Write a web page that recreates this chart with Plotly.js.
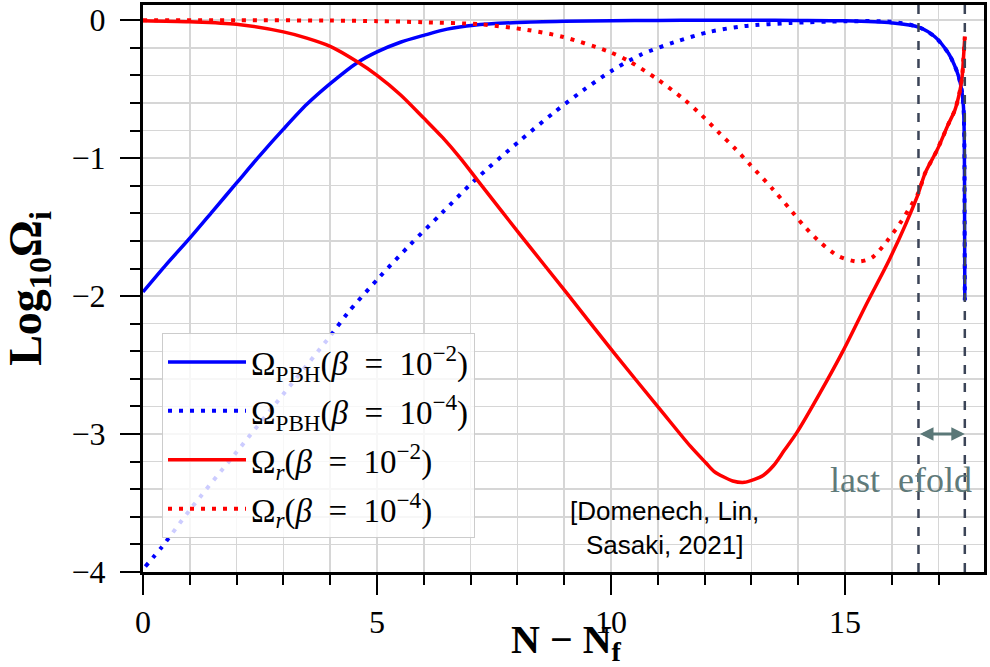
<!DOCTYPE html>
<html>
<head>
<meta charset="utf-8">
<script src="https://cdn.plot.ly/plotly-3.0.1.min.js"></script>
<style>html,body{margin:0;padding:0;background:#fff;}#chart{width:990px;height:667px;}</style>
</head>
<body>
<div id="chart"></div>
<script>
// N - N_f values and Log10 Omega values
const pbh2X = [0,0.5,1,1.5,2,2.5,3,3.5,4,4.57,5,5.5,6,6.5,7.07,8,9,10,11,12,13,14,15,16,16.57,16.92,17.21,17.33,17.42,17.49,17.53,17.55,17.555,17.56];
const pbh2Y = [-1.97,-1.77,-1.58,-1.38,-1.18,-0.98,-0.79,-0.61,-0.46,-0.31,-0.23,-0.16,-0.11,-0.065,-0.036,-0.017,-0.008,-0.004,-0.002,-0.001,-0.001,-0.002,-0.005,-0.02,-0.05,-0.12,-0.24,-0.32,-0.40,-0.50,-0.62,-0.90,-1.40,-2.03];

const pbh4X = [0.05,0.4,1,2,3,4,4.38,5.06,5.7,6.38,7.09,8.03,8.78,9.4,10,10.64,11.35,12.1,12.85,13.85,15,16,16.57,16.92,17.21,17.33,17.42,17.49,17.53,17.55,17.555,17.56];
const pbh4Y = [-3.96,-3.82,-3.55,-3.13,-2.71,-2.29,-2.12,-1.86,-1.63,-1.40,-1.16,-0.88,-0.67,-0.51,-0.37,-0.25,-0.16,-0.085,-0.043,-0.02,-0.008,-0.012,-0.05,-0.12,-0.24,-0.32,-0.40,-0.50,-0.62,-0.90,-1.40,-2.03];

const rad2X = [0,1,2,3,3.5,4,4.57,5,5.5,6,6.4,6.78,7.17,8.07,9.06,10.06,11.07,11.7,12.03,12.2,12.4,12.6,12.85,13.05,13.25,13.47,13.7,13.97,14.47,14.97,15.47,15.97,16.54,16.71,16.97,17.2,17.35,17.45,17.5,17.53,17.56];
const rad2Y = [-0.004,-0.012,-0.03,-0.085,-0.13,-0.19,-0.30,-0.40,-0.54,-0.71,-0.85,-1.00,-1.17,-1.56,-1.98,-2.41,-2.83,-3.09,-3.21,-3.27,-3.31,-3.34,-3.35,-3.33,-3.30,-3.23,-3.12,-2.99,-2.70,-2.39,-2.05,-1.72,-1.28,-1.11,-0.94,-0.76,-0.65,-0.52,-0.42,-0.28,-0.12];

const rad4X = [0,2,4,5,6,7.2,8.2,8.96,9.93,10.4,11.0,11.58,11.94,12.29,12.65,12.98,13.47,13.8,14.12,14.47,14.86,15.29,15.58,15.9,16.18,16.4,16.57,16.71,16.97,17.2,17.35,17.45,17.5,17.53,17.56];
const rad4Y = [0,0,-0.003,-0.007,-0.015,-0.03,-0.07,-0.12,-0.225,-0.30,-0.43,-0.58,-0.69,-0.81,-0.93,-1.05,-1.23,-1.36,-1.49,-1.61,-1.71,-1.75,-1.72,-1.60,-1.47,-1.35,-1.25,-1.11,-0.94,-0.76,-0.65,-0.52,-0.42,-0.28,-0.12];

const legendNames = [
  "Ω<sub>PBH</sub>(<i>β</i>\u2002=\u200210<sup>−2</sup>)",
  "Ω<sub>PBH</sub>(<i>β</i>\u2002=\u200210<sup>−4</sup>)",
  "Ω<sub><i>r</i></sub>(<i>β</i>\u2002=\u200210<sup>−2</sup>)",
  "Ω<sub><i>r</i></sub>(<i>β</i>\u2002=\u200210<sup>−4</sup>)"
];
const xTickVals = [0,5,10,15];
const yTickVals = [0,-1,-2,-3,-4];
const efoldLines = [16.57, 17.56];
const arrowY = -3.0;
const efoldLabel = "last  efold";
const citation = "[Domenech, Lin,<br>Sasaki, 2021]";
const xTitle = "<b>N − N<sub>f</sub></b>";
const yTitle = "<b>Log<sub>10</sub>Ω<sub>i</sub></b>";

const serif = "Liberation Serif, Times New Roman, serif";
const dotDash = "4px,7px";

const traces = [
  {x: pbh2X, y: pbh2Y, name: legendNames[0], legendgroup: "a", mode: "lines", line: {color: "#0000ff", width: 3.5, shape: "spline", smoothing: 0.8}},
  {x: pbh4X, y: pbh4Y, name: legendNames[1], legendgroup: "b", mode: "lines", line: {color: "#0000ff", width: 4, dash: dotDash, shape: "spline", smoothing: 0.8}},
  {x: rad2X, y: rad2Y, name: legendNames[2], legendgroup: "c", mode: "lines", line: {color: "#ff0000", width: 3.5, shape: "spline", smoothing: 0.8}},
  {x: rad4X, y: rad4Y, name: legendNames[3], legendgroup: "d", mode: "lines", line: {color: "#ff0000", width: 4, dash: dotDash, shape: "spline", smoothing: 0.8}}
];

const gridColor = "#d6d6d6";
const tickFont = {family: serif, size: 32, color: "#000"};
const layout = {
  width: 990, height: 667,
  margin: {l: 143, r: 6, t: 5, b: 95},
  paper_bgcolor: "#ffffff", plot_bgcolor: "#ffffff",
  showlegend: true,
  legend: {
    x: 0.0226, y: 0.4215, xanchor: "left", yanchor: "top",
    bgcolor: "rgba(255,255,255,0.8)", bordercolor: "#cccccc", borderwidth: 1,
    font: {family: serif, size: 33, color: "#000"},
    itemwidth: 78,
    tracegroupgap: 3
  },
  xaxis: {
    range: [0, 17.97], tickmode: "array", tickvals: xTickVals,
    ticks: "outside", ticklen: 20, tickwidth: 2, tickcolor: "#000",
    showline: true, linecolor: "#000", linewidth: 3, mirror: true,
    showgrid: true, gridcolor: gridColor, gridwidth: 1.5, zeroline: false,
    tickfont: tickFont,
    minor: {dtick: 1, tick0: 0, ticks: "outside", ticklen: 10, tickwidth: 2, tickcolor: "#000", showgrid: true, gridcolor: gridColor, gridwidth: 1.5}
  },
  yaxis: {
    range: [-4, 0.11], tickmode: "array", tickvals: yTickVals,
    ticks: "outside", ticklen: 20, tickwidth: 2, tickcolor: "#000", ticklabelstandoff: 8,
    showline: true, linecolor: "#000", linewidth: 3, mirror: true,
    showgrid: true, gridcolor: gridColor, gridwidth: 1.5, zeroline: false,
    tickfont: tickFont,
    minor: {dtick: 0.2, tick0: 0, ticks: "outside", ticklen: 10, tickwidth: 2, tickcolor: "#000", showgrid: true, gridcolor: gridColor, gridwidth: 1.5},
    title: {text: yTitle, font: {family: serif, size: 46, color: "#000"}, standoff: 20}
  },
  shapes: efoldLines.map(v => ({
    type: "line", xref: "x", yref: "paper", x0: v, x1: v, y0: 0, y1: 1,
    line: {color: "#3b4457", width: 2.5, dash: "dash"}
  })),
  annotations: [
    {x: efoldLines[1], y: arrowY, ax: efoldLines[0], ay: arrowY, xref: "x", yref: "y", axref: "x", ayref: "y",
     text: "", showarrow: true, arrowhead: 2, arrowside: "end+start", arrowsize: 0.9, arrowwidth: 3, arrowcolor: "#5b7878", standoff: 0, startstandoff: 0},
    {x: 16.2, y: -3.33, xref: "x", yref: "y", text: efoldLabel, showarrow: false,
     font: {family: serif, size: 36, color: "#5f7a7a"}},
    {x: 11.15, y: -3.68, xref: "x", yref: "y", text: citation, showarrow: false,
     font: {family: "Liberation Sans, Arial, sans-serif", size: 26, color: "#000"}},
    {x: 0.503, y: 0, xref: "paper", yref: "paper", xanchor: "center", yanchor: "middle", yshift: -70,
     text: xTitle, showarrow: false, font: {family: serif, size: 40, color: "#000"}}
  ]
};

Plotly.newPlot("chart", traces, layout, {displayModeBar: false, staticPlot: true});
</script>
</body>
</html>
